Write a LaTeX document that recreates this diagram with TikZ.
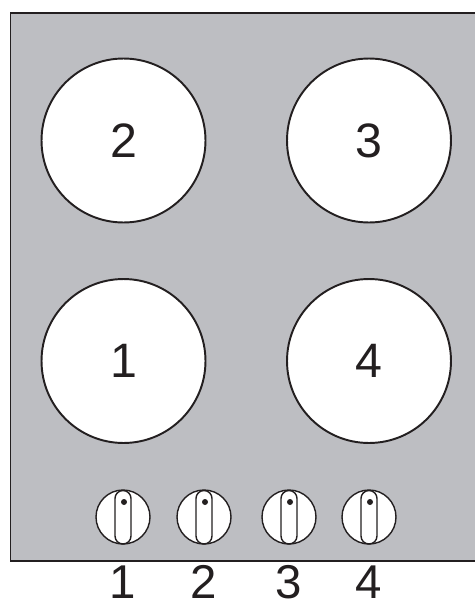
\documentclass[tikz,border=0pt]{standalone}
\usepackage{fontspec}
\setmainfont{Liberation Sans}
\usepackage{xcolor}
\definecolor{panelgray}{HTML}{BDBEC2}
\definecolor{inkblack}{HTML}{231F20}
\usetikzlibrary{positioning}
\tikzset{
  burner/.style={circle, draw=inkblack, line width=1.1pt, fill=white, inner sep=0pt,
    minimum size=3.28cm, text=inkblack, font=\fontsize{27.5}{27.5}\selectfont},
  knob/.style={circle, draw=inkblack, line width=0.8pt, fill=white, inner sep=0pt,
    minimum size=1.08cm},
  knobnum/.style={text=inkblack, inner sep=0pt, font=\fontsize{27}{27}\selectfont},
  slot/.style={draw=inkblack, line width=0.8pt, rounded corners=0.16cm},
}
\begin{document}
\begin{tikzpicture}[x=0.02cm,y=-0.02cm]
  \useasboundingbox (0,0) rectangle (474,602);

  % Panel, its right side runs off the page
  \draw[draw=inkblack, line width=0.85pt, fill=panelgray] (10.5,13) rectangle (480,561);

  % Burners
  \node[burner] (burner2) at (123.5,140.5) {2};
  \node[burner] (burner3) at (369,140.5) {3};
  \node[burner] (burner1) at (123.5,361) {1};
  \node[burner] (burner4) at (369,361) {4};

  % Knobs with their slots and dots
  \foreach \n/\kx in {1/123,2/204,3/289,4/369} {
    \node[knob] (knob\n) at (\kx,517) {};
    \draw[slot] (\kx-8,490.5) rectangle (\kx+8,544);
    \fill[inkblack] (\kx+1,502) circle (3);
    \node[knobnum, below=0.41cm of knob\n] (num\n) {\n};
  }
\end{tikzpicture}
\end{document}
